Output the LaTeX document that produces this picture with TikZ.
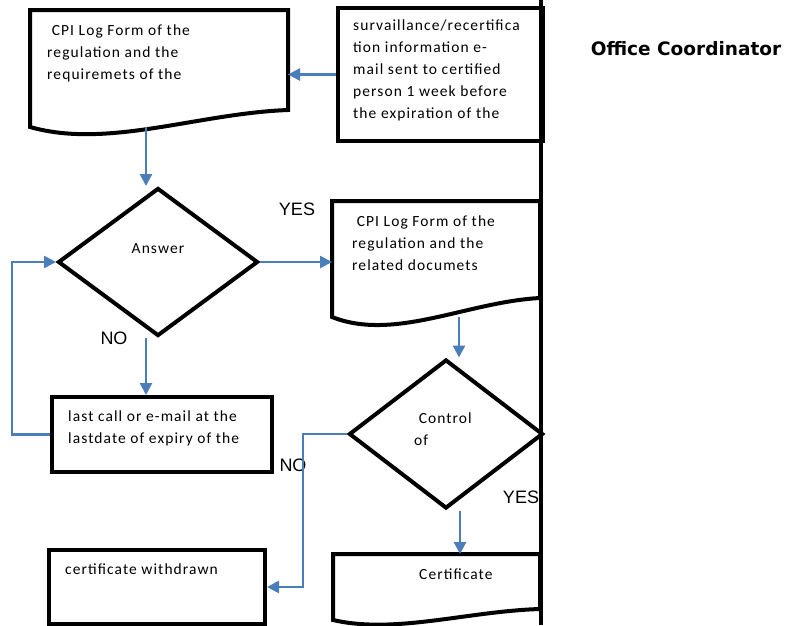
\documentclass[tikz,border=0pt]{standalone}
\usepackage{fontspec}
\newfontfamily\boxfont[LetterSpace=7]{Carlito}
\newfontfamily\labelfont{Liberation Sans}
\newfontfamily\headfont{DejaVu Sans}
\usetikzlibrary{positioning, calc, shapes.geometric, arrows.meta}
\definecolor{flowblue}{RGB}{74,126,187}

\begin{document}
\begin{tikzpicture}[x = 1pt, y = -1pt,
    frame/.style = {draw = black, line width = 4pt},
    blank/.style = {inner sep = 0, outer sep = 0},
    decision/.style = {frame, diamond, inner sep = 0},
    boxtext/.style = {inner sep = 0, align = left,
      font = \boxfont\fontsize{15.5}{21.8}\selectfont},
    answer/.style = {font = \labelfont\fontsize{18}{18}\selectfont},
    flow/.style = {draw = flowblue, line width = 2.6pt,
      -{Triangle[length = 12pt, width = 12pt]}}]

  \useasboundingbox (0, 0) rectangle (790, 625);

  % lane border
  \draw[line width = 4pt] (541, 0) -- (541, 625);
  \node[font = \headfont\bfseries\fontsize{18.5}{20}\selectfont]
    (lane) at (686, 49) {Office Coordinator};

  % frames
  \node[blank, anchor = north west, minimum width = 258,
    minimum height = 117] (d1) at (30, 10) {};
  \node[frame, anchor = north west, minimum width = 205,
    minimum height = 133] (mail) at (336, 6) {};
  \node[decision, minimum width = 200, minimum height = 148,
    label = {[boxtext, yshift = 13pt]center:Answer}] (answer) at (158, 262) {};
  \node[frame, anchor = north west, minimum width = 220,
    minimum height = 75] (lastcall) at (50, 395) {};
  \node[blank, anchor = north west, minimum width = 208,
    minimum height = 116] (d3) at (332, 201) {};
  \node[decision, minimum width = 194, minimum height = 149,
    label = {[boxtext, xshift = -3pt, yshift = 5pt]center:\ Control\\of}]
    (control) at (446, 434) {};
  \node[frame, anchor = north west, minimum width = 216,
    minimum height = 74] (withdrawn) at (47, 548) {};
  \node[blank, anchor = north west, minimum width = 207,
    minimum height = 66] (cert) at (333, 554) {};

  % document outlines
  \foreach \doc/\rise in {d1/17, d3/19, cert/11} {
    \draw[frame] (\doc.south west) |- (\doc.north east)
      -- ($(\doc.south east) + (0, -\rise)$)
      .. controls ($(\doc.south east)!0.35!(\doc.south west) + (0, {-0.8*\rise})$)
      and ($(\doc.south east)!0.7!(\doc.south west) + (0, {1.3*\rise})$)
      .. (\doc.south west) -- cycle;
  }

  % texts
  \node[boxtext, below right = 15pt and 17pt of d1.north west] (d1text)
    {\ CPI Log Form of the\\regulation and the\\requiremets of the};
  \node[boxtext, below right = 14pt and 17pt of mail.north west] (mailtext)
    {survaillance/recertifica\\tion information e-\\mail sent to certified\\person 1 week before\\the expiration of the};
  \node[boxtext, below right = 15pt and 20pt of d3.north west] (d3text)
    {\ CPI Log Form of the\\regulation and the\\related documets};
  \node[boxtext, below right = 16pt and 18pt of lastcall.north west] (lasttext)
    {last call or e-mail at the\\lastdate of expiry of the};
  \node[boxtext, below right = 16pt and 18pt of withdrawn.north west] (wdtext)
    {certificate withdrawn};
  \node[boxtext, below right = 15pt and 86pt of cert.north west] (certtext)
    {Certificate};

  \node[answer] (yes1) at (297, 209) {YES};
  \node[answer] (no1) at (114, 338) {NO};
  \node[answer] (no2) at (293, 465) {NO};
  \node[answer] (yes2) at (521, 497) {YES};

  % connectors
  \draw[flow] (mail.west) -- (mail.west -| d1.east);
  \draw[flow] ([xshift = -13pt]d1.south) -- ([xshift = -13pt]d1.south |- answer.north);
  \draw[flow] (answer.east) -- (answer.east -| d3.west);
  \draw[flow] ([xshift = -12pt]answer.south) -- ([xshift = -12pt]answer.south |- lastcall.north);
  \draw[flow] (lastcall.west) -- ++(-38, 0) |- (answer.west);
  \draw[flow] ([xshift = 23pt]d3.south) -- ([xshift = 23pt]d3.south |- control.north);
  \draw[flow] (control.west) -- ++(-44, 0) |- (withdrawn.east);
  \draw[flow] ([xshift = 14pt]control.south) -- ([xshift = 14pt]control.south |- cert.north);

\end{tikzpicture}
\end{document}
